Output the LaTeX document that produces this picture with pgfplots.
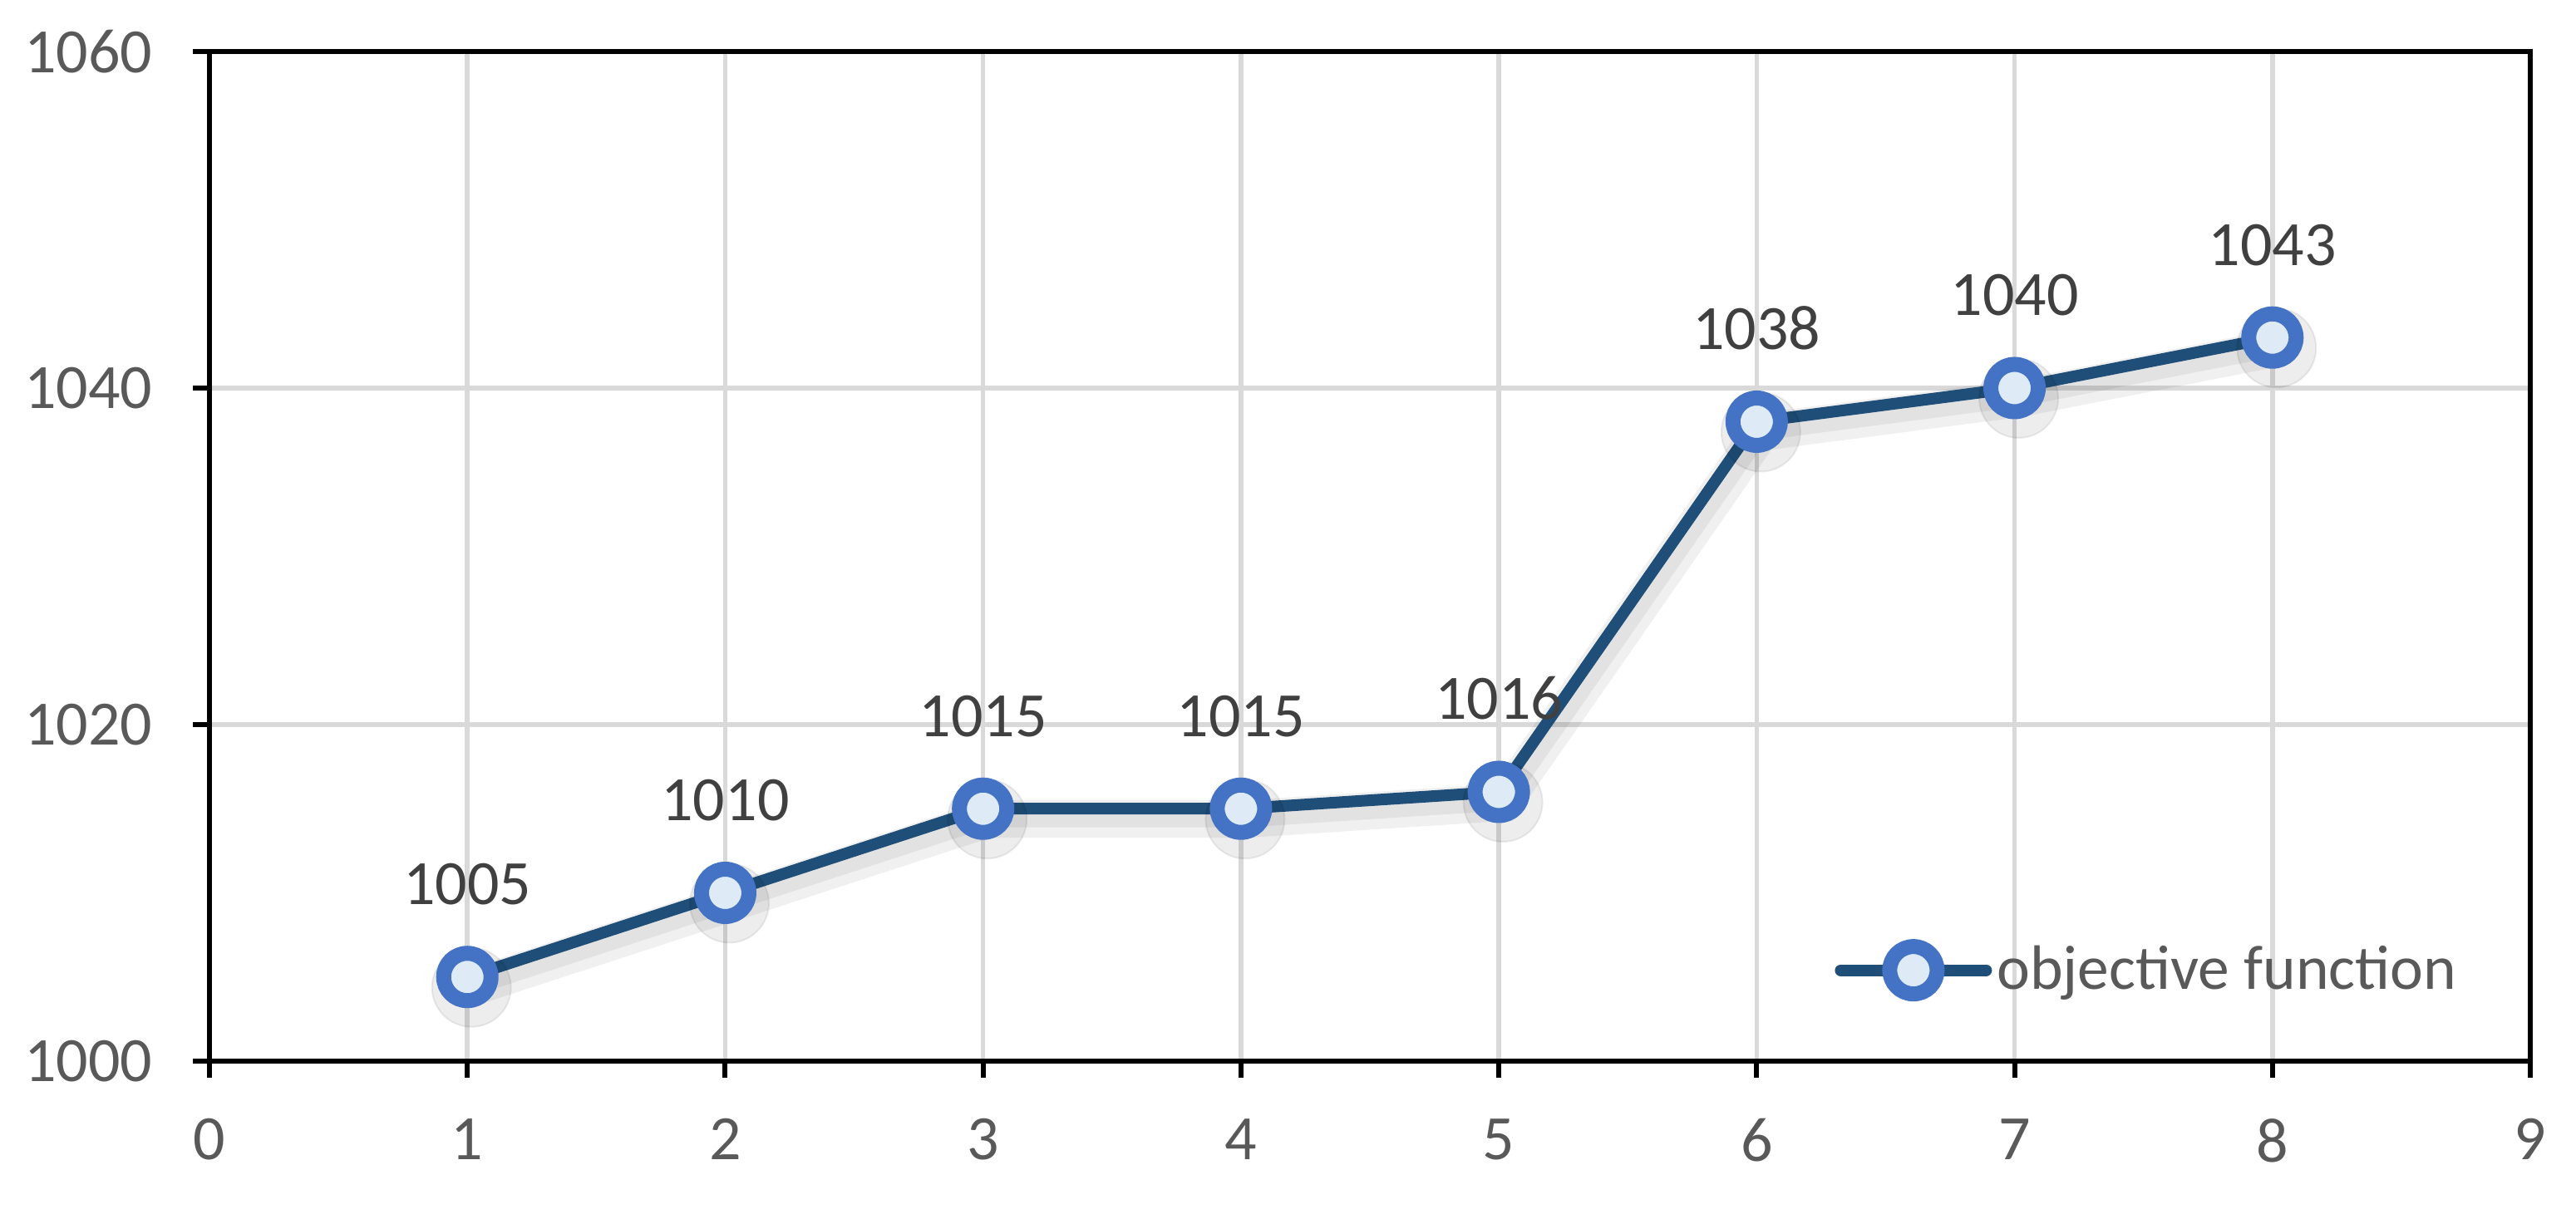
\documentclass[border=0pt]{standalone}
\usepackage{fontspec}
\setmainfont{Carlito}
\usepackage{pgfplots}
\pgfplotsset{compat=1.18}
\definecolor{lineblue}{HTML}{1F4E79}
\definecolor{markblue}{HTML}{4472C4}
\definecolor{markfill}{HTML}{DEEBF7}
\definecolor{gridgray}{HTML}{D9D9D9}
\definecolor{ticktext}{HTML}{595959}
\definecolor{labeltext}{HTML}{404040}

\begin{document}
\begin{tikzpicture}
\begin{axis}[
  scale only axis,
  width=558.4pt, height=243pt,
  xmin=0, xmax=9, ymin=1000, ymax=1060,
  xtick={0,1,...,9}, ytick={1000,1020,1040,1060},
  tick pos=left,
  tick align=outside, major tick length=4pt,
  tick style={black, line width=1.2pt},
  axis line style={black, line width=1.2pt},
  grid=major, grid style={gridgray, line width=1.1pt},
  ticklabel style={font=\fontsize{15.2}{18}\selectfont, text=ticktext},
  yticklabel style={xshift=-6.2pt},
  xticklabel style={yshift=-6.4pt},
  /pgf/number format/assume math mode=true,
  /pgf/number format/1000 sep={},
  legend style={draw=none, fill=none, at={(0.700,0.09)}, anchor=west,
    font=\fontsize{15.1}{18}\selectfont, text=ticktext, inner sep=0pt,
    nodes={inner sep=1.2pt}},
  legend image code/.code={
    \draw[mark repeat=2, mark phase=2, line cap=round]
      plot coordinates {(0pt,0pt) (17.5pt,0pt) (35pt,0pt)};},
]
% soft shadow
\addplot[forget plot, draw=black, opacity=0.06, line width=9pt,
  line join=round, xshift=1pt, yshift=-2.5pt] coordinates {
  (1,1005) (2,1010) (3,1015) (4,1015) (5,1016) (6,1038) (7,1040) (8,1043)};
\addplot[forget plot, draw=black, opacity=0.06, line width=5pt,
  line join=round, xshift=1pt, yshift=-2pt] coordinates {
  (1,1005) (2,1010) (3,1015) (4,1015) (5,1016) (6,1038) (7,1040) (8,1043)};
\addplot[forget plot, only marks, mark=*, mark size=9.5pt, draw=none,
  fill=black, opacity=0.07, xshift=1pt, yshift=-2.5pt] coordinates {
  (1,1005) (2,1010) (3,1015) (4,1015) (5,1016) (6,1038) (7,1040) (8,1043)};
\addplot[lineblue, line width=2.8pt, line join=round,
  mark=*, mark size=5.7pt,
  mark options={draw=markblue, fill=markfill, line width=3.6pt},
  nodes near coords,
  nodes near coords style={font=\fontsize{15.2}{18}\selectfont,
    text=labeltext, anchor=base, inner sep=0pt, yshift=17.4pt},
  ] coordinates {
  (1,1005) (2,1010) (3,1015) (4,1015) (5,1016) (6,1038) (7,1040) (8,1043)};
\addlegendentry{objective function}
\coordinate (SW) at (rel axis cs:0,0);
\coordinate (NE) at (rel axis cs:1,1);
\end{axis}
\path (SW) ++(-50.4pt,-38pt) coordinate (BL);
\path (NE) ++(11pt,12.4pt) coordinate (TR);
\path (BL) rectangle (TR);
\end{tikzpicture}
\end{document}
